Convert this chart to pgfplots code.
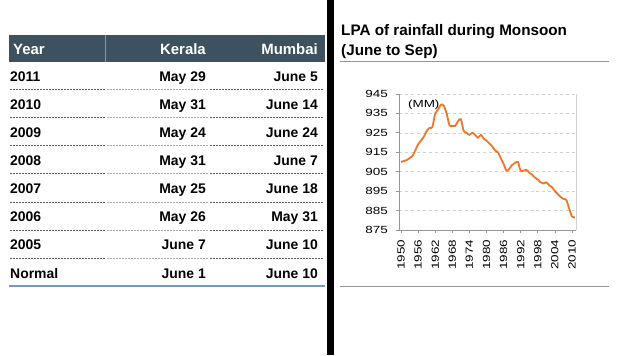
\documentclass[border=0pt]{standalone}
\usepackage{fontspec}
\setmainfont{Liberation Sans}
\newfontfamily\chartfont[FakeStretch=1.3]{Liberation Sans}
\usepackage{pgfplots}
\pgfplotsset{compat=1.18}
\definecolor{hdr}{RGB}{62,81,94}
\definecolor{lineor}{RGB}{240,118,40}
\definecolor{rulegray}{RGB}{150,150,150}
\definecolor{tblue}{RGB}{110,155,200}
\definecolor{sepdark}{RGB}{90,90,90}
\definecolor{seplight}{RGB}{170,170,170}

\pgfplotstableread{
year lpa
1950 910
1951 910.5
1952 911
1953 912
1954 913
1955 916
1956 919
1957 921
1958 923
1959 926
1960 927.5
1961 928
1962 935
1963 937
1964 939.5
1965 939
1966 935
1967 929
1968 928.5
1969 928.5
1970 931
1971 932
1972 926
1973 925
1974 924
1975 925
1976 924
1977 922.5
1978 924
1979 922
1980 921
1981 919.5
1982 918
1983 916
1984 915
1985 912
1986 909
1987 905.5
1988 906.5
1989 908.5
1990 909.5
1991 910
1992 905.5
1993 905.5
1994 906
1995 904.5
1996 903.5
1997 902
1998 901
1999 899.5
2000 899
2001 899.5
2002 898
2003 897
2004 895
2005 893.5
2006 892
2007 891
2008 890.5
2009 886
2010 882
2011 881.5
}\lpadata

\begin{document}
\begin{tikzpicture}[x=1bp,y=1bp]
\useasboundingbox (0,0) rectangle (620,355);
\fill[white] (0,0) rectangle (620,355);
\fill[black] (327,0) rectangle (334,355);

% ---- table ----
\fill[hdr] (9,293) rectangle (325,320);
\draw[hdr!60!white, line width=0.5bp] (105,293) -- (105,320);
\begin{scope}[every node/.style={inner sep=0pt, font=\bfseries\fontsize{15}{15}\selectfont, text=white}]
\node[anchor=base west] at (13,301) {Year};
\node[anchor=base east] at (206,301) {Kerala};
\node[anchor=base east] at (318,301) {Mumbai};
\end{scope}

\begin{scope}[every node/.style={inner sep=0pt, font=\bfseries\fontsize{14}{14}\selectfont}]
\foreach \yy/\yr/\ke/\mu in {273.3/2011/May 29/June 5, 245.3/2010/May 31/June 14, 217.3/2009/May 24/June 24, 189.3/2008/May 31/June 7, 161.7/2007/May 25/June 18, 133.7/2006/May 26/May 31, 106/2005/June 7/June 10, 77/Normal/June 1/June 10}{
  \node[anchor=base west] at (10,\yy) {\yr};
  \node[anchor=base east] at (206,\yy) {\ke};
  \node[anchor=base east] at (318,\yy) {\mu};
}
\end{scope}
\foreach \yy in {265.5,237.5,209.5,181.2,153,124.7,96.7}{
  \draw[sepdark, line width=0.8bp, dash pattern=on 2bp off 1bp] (10,\yy) -- (105,\yy);
  \draw[seplight, line width=0.8bp, dash pattern=on 2bp off 1bp] (107,\yy) -- (208,\yy);
  \draw[sepdark, line width=0.8bp, dash pattern=on 2bp off 1bp] (210,\yy) -- (323,\yy);
}
\draw[tblue, line width=1.2bp] (9,69) -- (325,69);

% ---- right panel ----
\node[anchor=base west, inner sep=0pt, font=\bfseries\fontsize{15.3}{15.3}\selectfont] at (341,320) {LPA of rainfall during Monsoon};
\node[anchor=base west, inner sep=0pt, font=\bfseries\fontsize{15.3}{15.3}\selectfont] at (341,300) {(June to Sep)};
\draw[rulegray, line width=1bp] (340,293.3) -- (609,293.3);
\draw[rulegray, line width=1bp] (340,69) -- (609,69);

\begin{axis}[
  at={(399bp,125bp)}, anchor=south west,
  scale only axis, width=177bp, height=136bp,
  xmin=1949.3, xmax=2011.4, ymin=875, ymax=945,
  axis lines*=left, axis line style={-, draw=rulegray, line width=0.8bp},
  xtick={1950,1956,...,2010}, ytick={875,885,...,945},
  tick align=outside, major tick length=3bp,
  tick style={draw=rulegray, line width=0.8bp},
  ymajorgrids, grid style={dashed, draw=gray!35, line width=0.6bp},
  /pgf/number format/assume math mode=true,
  /pgf/number format/set thousands separator={},
  tick label style={font=\chartfont\fontsize{10.4}{10.4}\selectfont},
  xticklabel style={rotate=90, anchor=east, inner sep=6.5bp},
  yticklabel style={anchor=east, inner sep=8bp},
  clip=false,
]
\draw[gray!35, line width=0.6bp] (rel axis cs:1,0) -- (rel axis cs:1,1);
\addplot[lineor, line width=1.8bp, smooth, tension=0.5] table[x=year, y=lpa] {\lpadata};
\node[anchor=west, inner sep=0pt, font=\chartfont\fontsize{10.4}{10.4}\selectfont] at (axis cs:1952.4,939.3) {(MM)};
\end{axis}
\end{tikzpicture}
\end{document}
